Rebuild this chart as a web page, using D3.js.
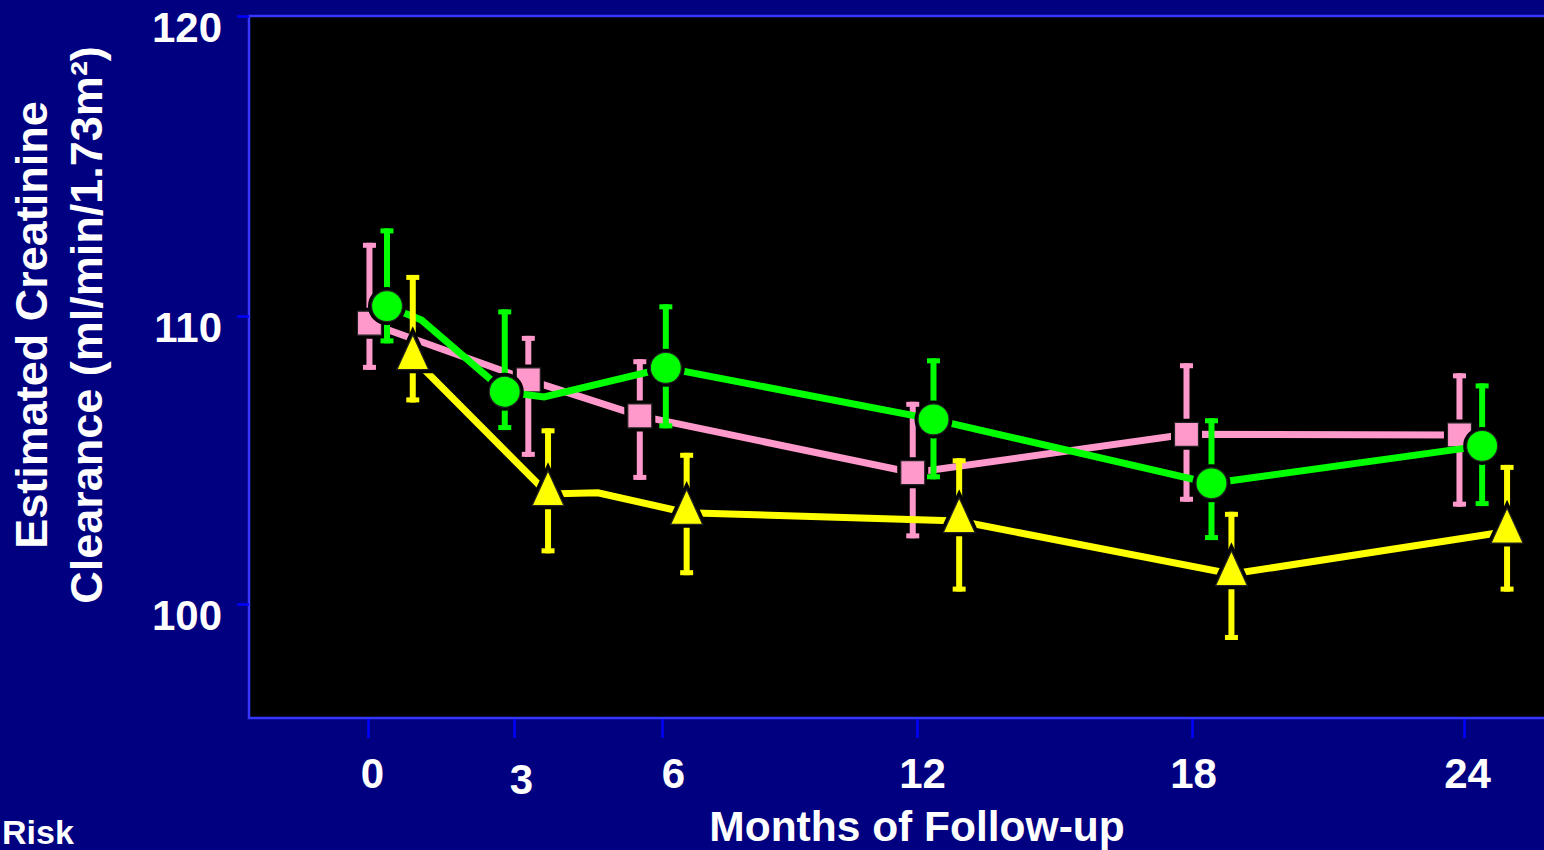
<!DOCTYPE html>
<html>
<head>
<meta charset="utf-8">
<script src="https://cdn.jsdelivr.net/npm/d3@7"></script>
<style>
  html, body { margin: 0; padding: 0; background: #000080; overflow: hidden; }
  svg { display: block; }
  text { font-family: "Liberation Sans", Arial, sans-serif; font-weight: bold; fill: #ffffff; }
</style>
</head>
<body>
<svg id="chart" width="1544" height="850"></svg>
<script>
// ---------- data ----------
const monthTicks = [0, 3, 6, 12, 18, 24];
const valueTicks = [100, 110, 120];

// pink squares
const pinkX    = [0.03, 3.29, 5.55, 11.9, 17.88, 23.9];
const pinkMean = [109.75, 107.78, 106.53, 104.56, 105.89, 105.87];
const pinkHi   = [112.44, 109.31, 108.5, 107.02, 108.36, 108.01];
const pinkLo   = [108.13, 105.11, 104.31, 102.28, 103.55, 103.38];
const pinkPathX = pinkX;
const pinkPathY = pinkMean;

// green circles
const greenX    = [0.39, 2.81, 6.09, 12.36, 18.43, 24.4];
const greenMean = [110.33, 107.37, 108.2, 106.41, 104.19, 105.49];
const greenHi   = [112.92, 110.22, 110.39, 108.53, 106.45, 107.66];
const greenLo   = [109.05, 106.04, 106.1, 104.33, 102.22, 103.4];
const greenPathX = [0.39, 1.10, 2.81, 3.61, 6.09, 12.36, 18.43, 24.4];
const greenPathY = [110.33, 109.86, 107.37, 107.19, 108.2, 106.41, 104.19, 105.49];

// yellow triangles
const yellowX    = [0.92, 3.69, 6.58, 12.92, 18.87, 24.95];
const yellowMean = [108.54, 103.82, 103.17, 102.88, 101.04, 102.52];
const yellowHi   = [111.37, 106.1, 105.25, 105.06, 103.2, 104.83];
const yellowLo   = [107.0, 101.76, 101.0, 100.43, 98.75, 100.43];
const yellowPathX = [0.92, 3.69, 4.70, 6.58, 12.92, 18.87, 24.95];
const yellowPathY = [108.54, 103.82, 103.86, 103.17, 102.88, 101.04, 102.52];

const yTitle1 = "Estimated Creatinine";
const yTitle2 = "Clearance (ml/min/1.73m\u00B2)";
const xTitle = "Months of Follow-up";
const cornerLabel = "Risk";

// ---------- layout ----------
const plotLeft = 249, plotTop = 16, plotBottom = 718, plotRight = 1560;
const svg = d3.select("#chart");

const x = d3.scaleLinear().domain(monthTicks).range([368, 514, 662, 917, 1192, 1464]);
const y = d3.scaleLinear().domain(valueTicks).range([604, 316, 16]);

// plot area
svg.append("rect")
  .attr("x", plotLeft).attr("y", plotTop)
  .attr("width", plotRight - plotLeft).attr("height", plotBottom - plotTop)
  .attr("fill", "#000000")
  .attr("stroke", "#3636ff").attr("stroke-width", 2.5);

// axes
const labelShift = { 0: 4, 3: 7, 6: 11, 12: 5, 18: 1, 24: 3 };
const xAxis = svg.append("g")
  .attr("transform", `translate(0,${plotBottom + 1})`)
  .call(d3.axisBottom(x).tickValues(monthTicks).tickSize(19).tickFormat(d3.format("d")));
xAxis.select(".domain").remove();
xAxis.selectAll(".tick line").attr("stroke", "#0000ff").attr("stroke-width", 2.5);
xAxis.selectAll(".tick text")
  .attr("y", d => d === 3 ? 75 : 69)
  .attr("dy", 0)
  .attr("dx", d => labelShift[d])
  .style("font-size", "42px");

const yAxis = svg.append("g")
  .attr("transform", `translate(${plotLeft},0)`)
  .call(d3.axisLeft(y).tickValues(valueTicks).tickSize(12).tickFormat(d3.format("d")));
yAxis.select(".domain").remove();
yAxis.selectAll(".tick line").attr("stroke", "#0000ff").attr("stroke-width", 2.5);
yAxis.selectAll(".tick text")
  .attr("x", -27)
  .attr("dy", 0)
  .attr("y", 25)
  .style("font-size", "42px");

// titles
svg.append("text")
  .attr("transform", "translate(47,325) rotate(-90)")
  .attr("text-anchor", "middle")
  .style("font-size", "45px")
  .text(yTitle1);
svg.append("text")
  .attr("transform", "translate(102,325) rotate(-90)")
  .attr("text-anchor", "middle")
  .style("font-size", "45px")
  .text(yTitle2);
svg.append("text")
  .attr("x", 917).attr("y", 841)
  .attr("text-anchor", "middle")
  .style("font-size", "42.5px")
  .text(xTitle);
svg.append("text")
  .attr("x", 2).attr("y", 844)
  .style("font-size", "34px")
  .text(cornerLabel);

// ---------- series ----------
const series = [
  { color: "#ff99cc", shape: "square",   xs: pinkX,   mean: pinkMean,   hi: pinkHi,   lo: pinkLo,   px: pinkPathX,   py: pinkPathY },
  { color: "#00ff00", shape: "circle",   xs: greenX,  mean: greenMean,  hi: greenHi,  lo: greenLo,  px: greenPathX,  py: greenPathY },
  { color: "#ffff00", shape: "triangle", xs: yellowX, mean: yellowMean, hi: yellowHi, lo: yellowLo, px: yellowPathX, py: yellowPathY }
];

function markerPath(shape) {
  if (shape === "square") {
    const s = 12;
    return `M${-s},${-s}H${s}V${s}H${-s}Z`;
  }
  if (shape === "circle") {
    const p = d3.path(); p.arc(0, 0, 15.5, 0, 2 * Math.PI); p.closePath();
    return p.toString();
  }
  const w = 16, h = 35;
  return `M0,${-h * 2 / 3}L${w},${h / 3}L${-w},${h / 3}Z`;
}

const line = d3.line().x(d => x(d[0])).y(d => y(d[1]));

series.forEach(s => {
  const g = svg.append("g");
  const pts = s.xs.map((m, i) => ({ m, v: s.mean[i], hi: s.hi[i], lo: s.lo[i] }));

  // error bars
  const eb = g.selectAll(".eb").data(pts).enter().append("g");
  eb.append("line")
    .attr("x1", d => x(d.m)).attr("x2", d => x(d.m))
    .attr("y1", d => y(d.hi)).attr("y2", d => y(d.lo))
    .attr("stroke", s.color).attr("stroke-width", 6);
  eb.append("line")
    .attr("x1", d => x(d.m) - 6.5).attr("x2", d => x(d.m) + 6.5)
    .attr("y1", d => y(d.hi) + 2.5).attr("y2", d => y(d.hi) + 2.5)
    .attr("stroke", s.color).attr("stroke-width", 5);
  eb.append("line")
    .attr("x1", d => x(d.m) - 6.5).attr("x2", d => x(d.m) + 6.5)
    .attr("y1", d => y(d.lo) - 2.5).attr("y2", d => y(d.lo) - 2.5)
    .attr("stroke", s.color).attr("stroke-width", 5);

  // connecting line
  g.append("path")
    .datum(s.px.map((m, i) => [m, s.py[i]]))
    .attr("d", line)
    .attr("fill", "none")
    .attr("stroke", s.color)
    .attr("stroke-width", 7);

  // marker halo + marker
  const mk = g.selectAll(".mk").data(pts).enter().append("g")
    .attr("transform", d => `translate(${x(d.m)},${y(d.v)})`);
  mk.append("path").attr("d", markerPath(s.shape))
    .attr("fill", "#000").attr("stroke", "#000").attr("stroke-width", 7).attr("stroke-linejoin", "miter");
  mk.append("path").attr("d", markerPath(s.shape))
    .attr("fill", s.color).attr("stroke", "#222").attr("stroke-width", 1.2);
});
</script>
</body>
</html>
